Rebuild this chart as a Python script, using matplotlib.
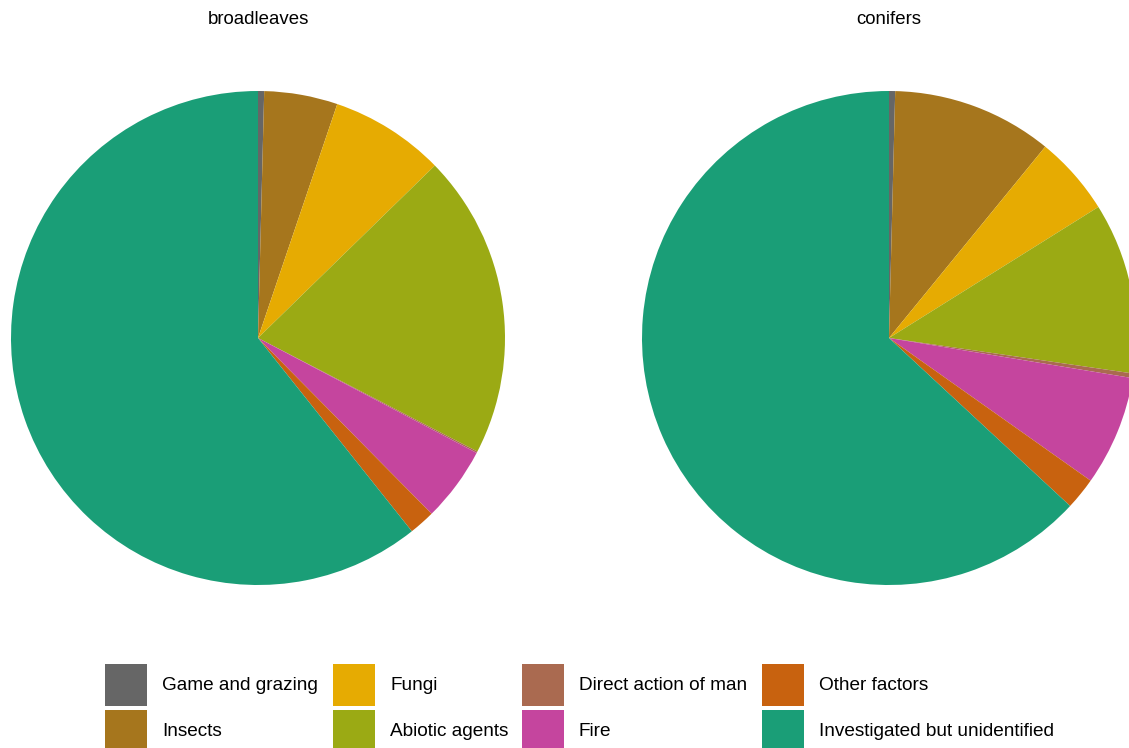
import matplotlib
matplotlib.use("Agg")
import matplotlib.pyplot as plt
from matplotlib.patches import Rectangle

plt.rcParams['font.family'] = ['Liberation Sans', 'DejaVu Sans']

categories = ["Game and grazing", "Insects", "Fungi", "Abiotic agents",
              "Direct action of man", "Fire", "Other factors",
              "Investigated but unidentified"]
colors = ["#666666", "#A6761D", "#E6AB02", "#9BAA14",
          "#AA6A50", "#C5459E", "#C8620F", "#1A9E77"]
panels = ["broadleaves", "conifers"]
broadleaves = [0.4, 4.8, 7.5, 19.9, 0.1, 4.9, 1.7, 60.7]
conifers = [0.4, 10.5, 5.2, 11.2, 0.3, 7.2, 2.1, 63.1]
values = [broadleaves, conifers]

W, H = 1129, 748
fig = plt.figure(figsize=(W / 100, H / 100), dpi=100)

centers = [(258, 338), (889, 338)]
R = 247
for (cx, cy), name, vals in zip(centers, panels, values):
    ax = fig.add_axes([(cx - R) / W, (H - cy - R) / H, 2 * R / W, 2 * R / H])
    ax.pie(vals, colors=colors, startangle=90, counterclock=False, radius=1,
           wedgeprops=dict(linewidth=0))
    ax.set_xlim(-1, 1)
    ax.set_ylim(-1, 1)
    ax.set_aspect('equal')
    ax.axis('off')
    fig.text(cx / W, 1 - 20 / H, name, ha='center', va='center', fontsize=13.4)

# legend
key_x = [105, 333, 522, 762]
row_y = [664, 710]
ks = 42
for i, (lab, col) in enumerate(zip(categories, colors)):
    c, r = i // 2, i % 2
    x, y = key_x[c], row_y[r]
    fig.patches.append(Rectangle((x / W, 1 - (y + ks) / H), ks / W, ks / H,
                                 transform=fig.transFigure, facecolor=col,
                                 edgecolor='none'))
    fig.text((x + 57) / W, 1 - (y + 22) / H, lab, ha='left', va='center',
             fontsize=13.7)

fig.savefig("out.png", dpi=100)
